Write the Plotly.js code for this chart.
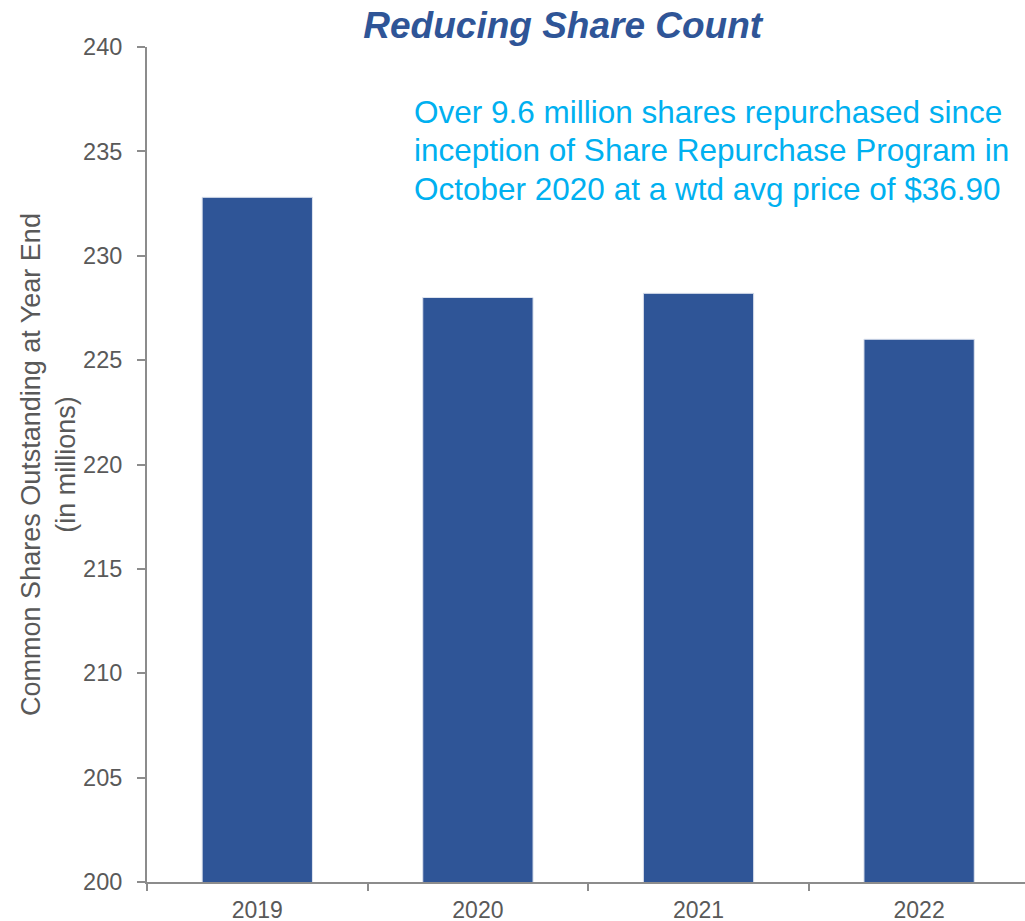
<!DOCTYPE html>
<html>
<head>
<meta charset="utf-8">
<script src="https://cdn.plot.ly/plotly-3.0.1.min.js"></script>
<style>
  html, body { margin: 0; padding: 0; background: #fff; }
  #chart { width: 1025px; height: 921px; }
</style>
</head>
<body>
<div id="chart"></div>
<script>
// shares outstanding at year end, in millions
var years = ['2019', '2020', '2021', '2022'];
var shares = [232.8, 228.0, 228.2, 226.0];
var yTicks = [200, 205, 210, 215, 220, 225, 230, 235, 240];

// call-out text, one entry per line
var noteLines = [
  'Over 9.6 million shares repurchased since',
  'inception of Share Repurchase Program in',
  'October 2020 at a wtd avg price of $36.90'
];
var noteY = [0.9226, 0.8764, 0.8303];

var barColor = '#2F5597';
var greyText = '#595959';
var axisGrey = '#8C8C8C';
var fontFam = '"Liberation Sans", Arial, sans-serif';

var trace = {
  x: years,
  y: shares,
  type: 'bar',
  marker: { color: barColor, line: { color: '#DDE3EE', width: 1 } },
  hoverinfo: 'x+y'
};

var notes = noteLines.map(function (line, i) {
  return {
    text: line,
    xref: 'paper', yref: 'paper',
    x: 0.302, y: noteY[i],
    xanchor: 'left', yanchor: 'middle',
    align: 'left',
    showarrow: false,
    font: { size: 31.5, color: '#00B0F0', family: fontFam }
  };
});

var layout = {
  width: 1025,
  height: 921,
  margin: { l: 147, r: 0, t: 47, b: 39 },
  paper_bgcolor: '#fff',
  plot_bgcolor: '#fff',
  font: { family: fontFam, color: greyText },
  showlegend: false,
  bargap: 0.5,
  title: {
    text: '<b><i>Reducing Share Count</i></b>',
    font: { size: 37, color: barColor, family: fontFam },
    xref: 'container', x: 0.549, xanchor: 'center',
    yref: 'container', y: 0.973, yanchor: 'middle'
  },
  xaxis: {
    type: 'category',
    range: [-0.5, 3.48],
    showline: true,
    linecolor: axisGrey,
    linewidth: 2,
    ticks: 'outside',
    tickson: 'boundaries',
    ticklen: 7,
    tickcolor: axisGrey,
    tickwidth: 2,
    ticklabelstandoff: 6,
    tickfont: { size: 23, color: greyText, family: fontFam },
    showgrid: false,
    zeroline: false
  },
  yaxis: {
    range: [200, 240],
    tickvals: yTicks,
    showline: true,
    linecolor: axisGrey,
    linewidth: 2,
    ticks: 'outside',
    ticklen: 8,
    tickcolor: axisGrey,
    tickwidth: 2,
    ticklabelstandoff: 10,
    tickfont: { size: 23.5, color: greyText, family: fontFam },
    showgrid: false,
    zeroline: false,
    title: {
      text: 'Common Shares Outstanding at Year End<br>(in millions)',
      font: { size: 27, color: greyText, family: fontFam },
      standoff: 0
    }
  },
  annotations: notes
};

Plotly.newPlot('chart', [trace], layout, { displayModeBar: false, staticPlot: true });
</script>
</body>
</html>
